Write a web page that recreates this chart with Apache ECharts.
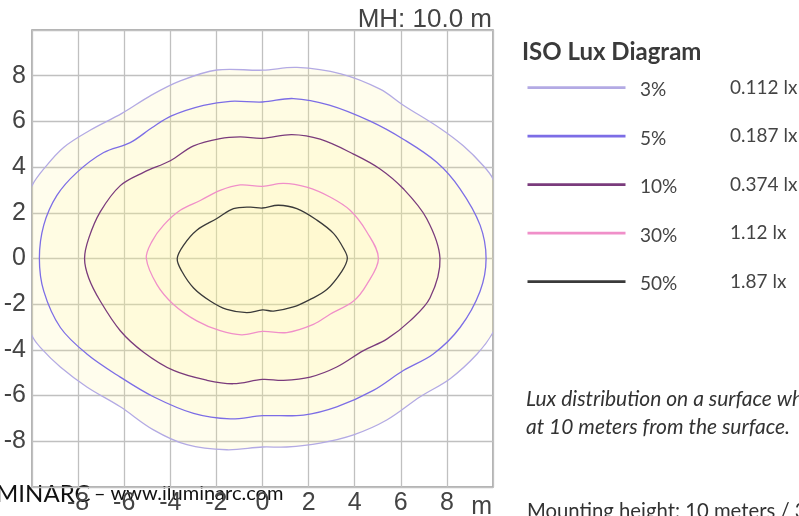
<!DOCTYPE html>
<html>
<head>
<meta charset="utf-8">
<script src="https://cdn.jsdelivr.net/npm/echarts@6/dist/echarts.min.js"></script>
<style>
html, body { margin: 0; padding: 0; background: #fff; }
#chart { width: 799px; height: 516px; }
</style>
</head>
<body>
<div id="chart"></div>
<script>
// iso-lux levels
var levels = ['3%', '5%', '10%', '30%', '50%'];
var luxValues = ['0.112 lx', '0.187 lx', '0.374 lx', '1.12 lx', '1.87 lx'];

// contour outlines in metres, outermost first
var contour3 = [[-10.55, 0], [-10.3, 2.3], [-10, 3.19], [-9.49, 3.92], [-8.63, 4.86], [-7.5, 5.6], [-6.1, 6.35],
    [-4.87, 7.12], [-3.57, 7.77], [-1.98, 8.25], [0, 8.24], [1.49, 8.36], [3.4, 8.08], [5.1, 7.41], [6.11, 6.71],
    [7.7, 5.7], [8.71, 4.93], [9.58, 4.06], [10, 3.48], [10.3, 2.5], [10.5, 0], [10.3, -2.4], [10, -3.24],
    [9.31, -4.18], [8.14, -5.26], [6.84, -6.05], [5.39, -7.07], [3.95, -7.72], [2.5, -8.08], [1.05, -8.25],
    [0, -8.25], [-1.55, -8.37], [-3.28, -8.15], [-4.73, -7.5], [-6.17, -6.49], [-7.62, -5.62], [-8.77, -4.75],
    [-9.64, -3.89], [-10, -3.38], [-10.3, -2.5]];
var contour5 = [[-9.68, 0], [-9.49, 1.46], [-8.92, 2.76], [-8.05, 3.77], [-6.89, 4.64], [-5.74, 5.07], [-4.8, 5.72],
    [-3.95, 6.24], [-2.56, 6.7], [-1.4, 6.88], [0, 6.85], [1.34, 7.0], [2.9, 6.71], [4.67, 6.01], [6.11, 5.22],
    [7.56, 4.21], [8.57, 3.05], [9.44, 1.46], [9.7, 0], [9.44, -1.43], [8.57, -3.02], [7.41, -4.18], [6.11, -4.9],
    [4.81, -5.77], [3.22, -6.49], [1.78, -6.85], [0, -6.88], [-1.4, -7.02], [-2.99, -6.78], [-4.73, -6.05],
    [-6.17, -5.19], [-7.62, -4.18], [-8.77, -3.02], [-9.49, -1.43]];
var contour10 = [[-7.72, 0], [-7.54, 0.88], [-7.04, 2.04], [-6.17, 3.19], [-5.16, 3.77], [-4.0, 4.28], [-2.99, 4.93],
    [-1.84, 5.25], [-0.97, 5.32], [0, 5.26], [1.27, 5.42], [2.5, 5.22], [3.95, 4.57], [5.1, 3.92], [6.11, 3.05],
    [7.12, 1.75], [7.7, 0], [7.27, -1.72], [6.4, -2.73], [5.39, -3.53], [4.38, -4.03], [3.22, -4.75], [2.07, -5.19],
    [0.91, -5.33], [0, -5.29], [-1.26, -5.48], [-2.41, -5.33], [-3.86, -4.9], [-5.16, -4.1], [-6.17, -3.16],
    [-7.04, -1.86], [-7.54, -0.85]];
var contour30 = [[-5.04, 0], [-4.8, 0.74], [-4.29, 1.46], [-3.57, 2.11], [-2.7, 2.54], [-1.84, 2.98], [-0.97, 3.22],
    [0, 3.16], [0.91, 3.29], [1.92, 3.12], [2.93, 2.69], [3.8, 2.11], [4.52, 1.17], [5.03, 0], [4.52, -1.14],
    [3.95, -1.86], [2.93, -2.44], [2.21, -2.88], [1.05, -3.24], [0, -3.19], [-0.9, -3.34], [-1.84, -3.16],
    [-2.85, -2.73], [-3.86, -2.01], [-4.58, -1.14]];
var contour50 = [[-3.7, 0], [-3.42, 0.59], [-2.85, 1.24], [-1.98, 1.75], [-1.26, 2.18], [-0.53, 2.25], [0, 2.21],
    [0.69, 2.33], [1.49, 2.18], [2.36, 1.68], [3.08, 1.1], [3.51, 0.45], [3.68, 0], [3.44, -0.56], [2.79, -1.36],
    [2.07, -1.79], [1.34, -2.12], [0.48, -2.3], [0, -2.25], [-0.68, -2.37], [-1.55, -2.23], [-2.27, -1.86],
    [-2.99, -1.29], [-3.5, -0.56]];
var contours = [contour3, contour5, contour10, contour30, contour50];

var lineColors = ['#b3aae4', '#7c6de6', '#7a3b7c', '#f08fc9', '#3a3a3a'];
var fillColors = ['rgba(255,244,150,0.17)', 'rgba(255,244,150,0.11)', 'rgba(255,244,150,0.1)',
    'rgba(255,244,150,0.08)', 'rgba(255,244,150,0.07)'];

var chart = echarts.init(document.getElementById('chart'), null, {renderer: 'canvas'});

var series = contours.map(function (pts, k) {
    return {
        type: 'custom',
        name: levels[k],
        coordinateSystem: 'cartesian2d',
        clip: true,
        silent: true,
        data: pts,
        encode: {x: 0, y: 1},
        renderItem: function (params, api) {
            if (params.dataIndex !== 0) return null;
            var cs = params.coordSys;
            var points = pts.map(function (p) { return api.coord(p); });
            return {
                type: 'polygon',
                shape: {points: points, smooth: 0.35},
                style: {fill: fillColors[k], stroke: lineColors[k], lineWidth: 1.3},
                clipPath: {type: 'rect', shape: {x: cs.x, y: cs.y, width: cs.width, height: cs.height}}
            };
        }
    };
});

// legend block on the right
var graphics = [];
levels.forEach(function (lv, i) {
    var y = 86.5 + i * 48.5;
    graphics.push({
        type: 'line', left: 525, top: y - 1.4,
        shape: {x1: 0, y1: 0, x2: 98, y2: 0},
        style: {stroke: lineColors[i], lineWidth: 2.7}
    });
    graphics.push({
        type: 'text', left: 640, top: y - 6,
        style: {text: lv, font: '19px Lato', fill: '#444'}
    });
    graphics.push({
        type: 'text', left: 730, top: y - 8.5,
        style: {text: luxValues[i], font: '19px Lato', fill: '#444'}
    });
});
graphics.push({
    type: 'text', left: 522, top: 40,
    style: {text: 'ISO Lux Diagram', font: 'bold 24px Lato', fill: '#3a3a3a'}
});
graphics.push({
    type: 'text', left: 526, top: 389,
    style: {text: 'Lux distribution on a surface where the luminaire is installed', font: 'italic 21px Lato', fill: '#333'}
});
graphics.push({
    type: 'text', left: 526, top: 417,
    style: {text: 'at 10 meters from the surface.', font: 'italic 21px Lato', fill: '#333'}
});
graphics.push({
    type: 'text', left: 527, top: 501,
    style: {text: 'Mounting height: 10 meters / 32.8 feet', font: '20.3px Lato', fill: '#333'}
});
graphics.push({
    type: 'text', right: 307, top: 7,
    style: {text: 'MH: 10.0 m', font: '26px "Liberation Sans"', fill: '#444'}
});
graphics.push({
    type: 'text', right: 307, top: 495,
    style: {text: 'm', font: '25px "Liberation Sans"', fill: '#444'}
});
graphics.push({
    type: 'text', left: -40, top: 482,
    style: {
        text: '{a|ILUMINARC} {b|\u2013 www.iluminarc.com}',
        rich: {
            a: {font: '24px Lato', fill: '#111'},
            b: {font: '20px Lato', fill: '#111'}
        }
    }
});

var option = {
    animation: false,
    grid: {left: 32, top: 30, right: 306, bottom: 25, show: true, borderColor: '#999', borderWidth: 1.5},
    xAxis: {
        type: 'value', min: -10, max: 10, interval: 2,
        axisLine: {show: false},
        axisTick: {show: false},
        axisLabel: {
            fontSize: 25, fontFamily: 'Liberation Sans', color: '#444', margin: 4,
            formatter: function (v) { return (v === -10 || v === 10) ? '' : v; }
        },
        splitLine: {lineStyle: {color: '#c0c0c0', width: 1.3}}
    },
    yAxis: {
        type: 'value', min: -10, max: 10, interval: 2,
        axisLine: {show: false},
        axisTick: {show: false},
        axisLabel: {
            fontSize: 25, fontFamily: 'Liberation Sans', color: '#444', margin: 6,
            formatter: function (v) { return (v === -10 || v === 10) ? '' : v; }
        },
        splitLine: {lineStyle: {color: '#c0c0c0', width: 1.3}}
    },
    series: series,
    graphic: graphics
};

chart.setOption(option);
</script>
</body>
</html>
